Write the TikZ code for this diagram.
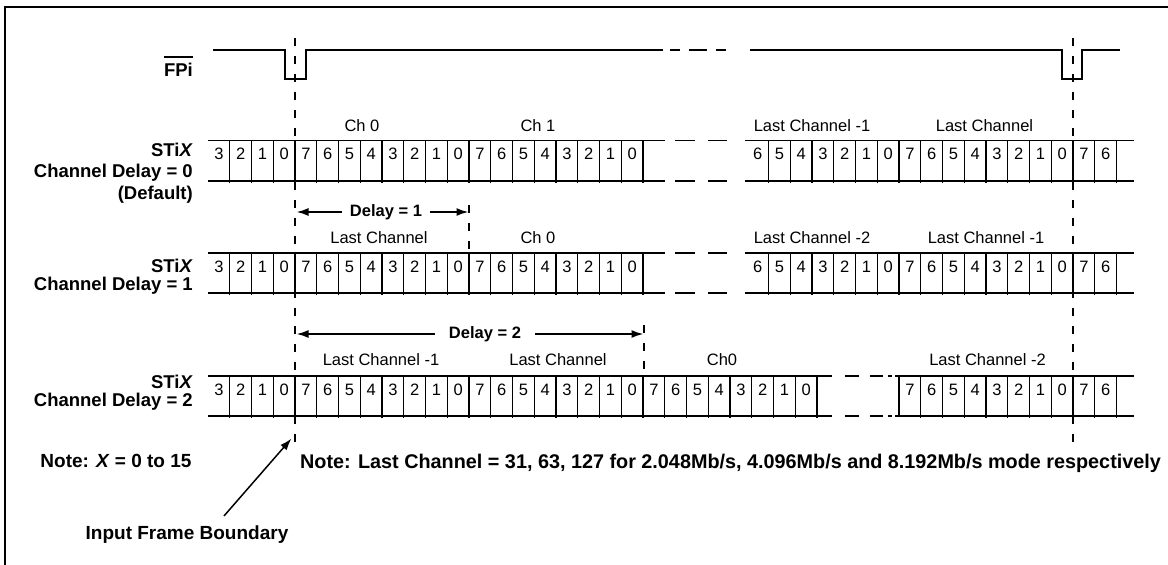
\documentclass[tikz,border=0pt]{standalone}
\usepackage{fontspec}
\setmainfont{Liberation Sans}
\usetikzlibrary{arrows.meta,calc}

\begin{document}
\begin{tikzpicture}[x=1pt,y=-1pt,
    lbl/.style={font=\fontsize{18.5}{18}\selectfont\bfseries, align=right, anchor=east, inner sep=0pt},
    note/.style={font=\fontsize{19}{20}\selectfont\bfseries, inner sep=0pt},
    dly/.style={font=\fontsize{16.5}{18}\selectfont\bfseries, inner ysep=0pt},
    chan/.style={font=\fontsize{16.5}{18}\selectfont, inner sep=0pt},
    bit/.style={font=\fontsize{16.5}{18}\selectfont, inner sep=0pt},
    wall/.style={line width=1.3pt},
    bwall/.style={line width=2.6pt},
    rail/.style={line width=1.8pt},
    gap/.style={line width=1.8pt, dash pattern=on 0pt off 10pt on 20pt off 13pt on 19pt off 30pt},
    gapc/.style={line width=1.8pt, dash pattern=on 0pt off 13pt on 14pt off 11pt on 13pt off 5pt on 4pt off 20pt},
    frame/.style={line width=1.8pt, dash pattern=on 8pt off 10pt},
    arr/.style={line width=1.8pt, -{Latex[length=12pt,width=8pt]}}]
\useasboundingbox (0,0) rectangle (1168,565);

% border
\draw[line width=1.8pt] (5,565) -- (5,7) -- (1168,7);

% frame pulse
\draw[line width=1.5pt] (213,50) -- (285,50) -- (285,79) -- (306,79) -- (306,50) -- (663,50);
\draw[line width=1.5pt, dash pattern=on 0pt off 7pt on 10pt off 9pt on 18pt off 9pt on 10pt off 30pt] (663,50) -- (750,50);
\draw[line width=1.5pt] (750,50) -- (1062,50) -- (1062,79) -- (1082,79) -- (1082,50) -- (1120,50);
\node[lbl] (fpi) at (193,70) {FPi};
\draw[line width=2.5pt] ([yshift=6pt]fpi.north west) -- ([yshift=6pt]fpi.north east);

% frame boundaries
\draw[frame] (295,38) -- (295,450);
\draw[frame] (1073,38) -- (1073,450);

%%%% row 1: delay = 0
\node[lbl, font=\fontsize{18.5}{21.5}\selectfont\bfseries] (s0) at (193,173) {STi\textit{X}\\Channel Delay = 0\\(Default)};
\draw[rail] (208,140.5) -- (665,140.5) (745,140.5) -- (1133.5,140.5);
\draw[rail] (208,181) -- (665,181) (745,181) -- (1133.5,181);
\draw[gap] (665,140.5) -- (745,140.5) (665,181) -- (745,181);
\foreach \d [count=\k from 0] in {3,2,1,0,7,6,5,4,3,2,1,0,7,6,5,4,3,2,1,0}
    \node[bit] (r1a\k) at ({208+(\k+0.5)*21.75},154) {\d};
\foreach \k in {1,...,20} \draw[wall] ({208+\k*21.75},140.5) -- ++(0,42);
\foreach \k in {4,12,20} \draw[bwall] ({208+\k*21.75},140.5) -- ++(0,41);
\foreach \d [count=\k from 0] in {6,5,4,3,2,1,0,7,6,5,4,3,2,1,0,7,6}
    \node[bit] (r1b\k) at ({746.75+(\k+0.5)*21.75},154) {\d};
\foreach \k in {1,...,17} \draw[wall] ({746.75+\k*21.75},140.5) -- ++(0,42);
\foreach \k in {7,15} \draw[bwall] ({746.75+\k*21.75},140.5) -- ++(0,41);
\node[chan] (c1a) at (362,126) {Ch 0};
\node[chan] (c1b) at (538,126) {Ch 1};
\node[chan] (c1c) at (812,126) {Last Channel -1};
\node[chan] (c1d) at (984.5,126) {Last Channel};

%%%% row 2: delay = 1
\node[dly, inner xsep=8pt] (d1) at (386,212) {Delay = 1};
\coordinate (d1l) at (296.5,212);
\coordinate (d1r) at (468.5,212);
\draw[arr] (d1) -- (d1l);
\draw[arr] (d1) -- (d1r);
\draw[frame] (469,205) -- (469,253);
\node[lbl] (s1) at (193,277) {STi\textit{X}\\Channel Delay = 1};
\draw[rail] (208,253) -- (665,253) (745,253) -- (1133.5,253);
\draw[rail] (208,293) -- (665,293) (745,293) -- (1133.5,293);
\draw[gap] (665,253) -- (745,253) (665,293) -- (745,293);
\foreach \d [count=\k from 0] in {3,2,1,0,7,6,5,4,3,2,1,0,7,6,5,4,3,2,1,0}
    \node[bit] (r2a\k) at ({208+(\k+0.5)*21.75},266.5) {\d};
\foreach \k in {1,...,20} \draw[wall] ({208+\k*21.75},253) -- ++(0,41.5);
\foreach \k in {4,12,20} \draw[bwall] ({208+\k*21.75},253) -- ++(0,40);
\foreach \d [count=\k from 0] in {6,5,4,3,2,1,0,7,6,5,4,3,2,1,0,7,6}
    \node[bit] (r2b\k) at ({746.75+(\k+0.5)*21.75},266.5) {\d};
\foreach \k in {1,...,17} \draw[wall] ({746.75+\k*21.75},253) -- ++(0,41.5);
\foreach \k in {7,15} \draw[bwall] ({746.75+\k*21.75},253) -- ++(0,40);
\node[chan] (c2a) at (379,238) {Last Channel};
\node[chan] (c2b) at (538,238) {Ch 0};
\node[chan] (c2c) at (812,238) {Last Channel -2};
\node[chan] (c2d) at (986,238) {Last Channel -1};

%%%% row 3: delay = 2
\node[dly, inner xsep=14pt] (d2) at (485,334) {Delay = 2};
\coordinate (d2l) at (296.5,334);
\coordinate (d2r) at (643.5,334);
\draw[arr] (d2) -- (d2l);
\draw[arr] (d2) -- (d2r);
\draw[frame] (644,325) -- (644,376);
\node[lbl] (s2) at (193,393) {STi\textit{X}\\Channel Delay = 2};
\draw[rail] (208,376) -- (832,376) (895,376) -- (1133.5,376);
\draw[rail] (208,416) -- (832,416) (895,416) -- (1133.5,416);
\draw[gapc] (832,376) -- (895,376) (832,416) -- (895,416);
\foreach \d [count=\k from 0] in {3,2,1,0,7,6,5,4,3,2,1,0,7,6,5,4,3,2,1,0,7,6,5,4,3,2,1,0}
    \node[bit] (r3a\k) at ({208+(\k+0.5)*21.75},389.5) {\d};
\foreach \k in {1,...,28} \draw[wall] ({208+\k*21.75},376) -- ++(0,41.5);
\foreach \k in {4,12,20} \draw[bwall] ({208+\k*21.75},376) -- ++(0,40);
\foreach \d [count=\k from 0] in {7,6,5,4,3,2,1,0,7,6}
    \node[bit] (r3b\k) at ({899+(\k+0.5)*21.75},389.5) {\d};
\foreach \k in {1,...,10} \draw[wall] ({899+\k*21.75},376) -- ++(0,41.5);
\foreach \k in {0,8} \draw[bwall] ({899+\k*21.75},376) -- ++(0,40);
\node[chan] (c3a) at (381,360) {Last Channel -1};
\node[chan] (c3b) at (558,360) {Last Channel};
\node[chan] (c3c) at (722,360) {Ch0};
\node[chan] (c3d) at (987.5,360) {Last Channel -2};

% notes
\node[note] (nx) at (116,461) {Note: \textit{X} = 0 to 15};
\node[note, anchor=west, font=\fontsize{19.8}{20}\selectfont\bfseries] (nlast) at (300,463) {Note: Last Channel = 31, 63, 127 for 2.048Mb/s, 4.096Mb/s and 8.192Mb/s mode respectively};
\node[note] (ifb) at (187,535) {Input Frame Boundary};
\coordinate (ifbtip) at (291.5,438.5);
\draw[line width=1.5pt, -{Latex[length=12pt,width=8pt]}] ([xshift=37pt,yshift=10pt]ifb.north) -- (ifbtip);

\end{tikzpicture}
\end{document}
